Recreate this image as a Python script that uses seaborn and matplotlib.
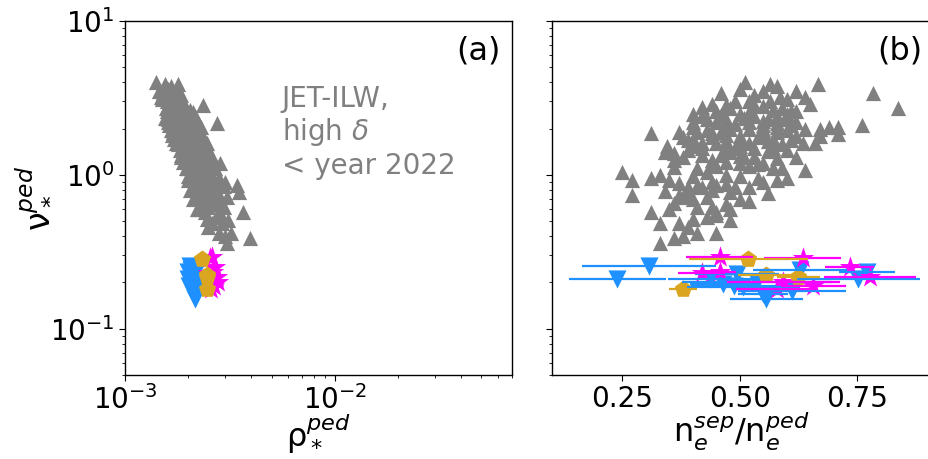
import matplotlib
matplotlib.use("Agg")
import matplotlib.pyplot as plt
import numpy as np
import pandas as pd
import seaborn as sns

# ---------------- data ----------------
# JET-ILW high-triangularity reference set (before 2022)
ref_nu = [4.0, 3.9, 3.9, 3.4, 3.4, 3.2, 3.2, 3.0, 3.0, 3.0, 2.9, 2.84, 2.75, 2.7, 2.6,
          2.5, 2.5, 2.4, 2.3, 2.2, 2.2, 2.16, 2.1, 2.1, 2.05, 2.05, 2.05, 2.05, 2.0, 2.0,
          1.95, 1.9, 1.86, 1.86, 1.85, 1.8, 1.8, 1.76, 1.72, 1.68, 1.68, 1.65, 1.6, 1.6,
          1.55, 1.5, 1.5, 1.5, 1.45, 1.4, 1.38, 1.35, 1.3, 1.25, 1.2, 1.19, 1.18, 1.1,
          1.08, 1.04, 1.0, 1.0, 0.96, 0.95, 0.92, 0.92, 0.88, 0.855, 0.83, 0.83, 0.83,
          0.83, 0.79, 0.77, 0.76, 0.74, 0.74, 0.72, 0.68, 0.65, 0.62, 0.62, 0.57, 0.57,
          0.55, 0.51, 0.49, 0.49, 0.42, 0.42, 0.40, 0.39, 0.36,
          2.6, 2.4, 2.3, 2.3, 2.2, 2.0, 1.9, 1.9, 1.75, 1.7, 1.62, 1.55, 1.45, 1.4, 1.3,
          2.8, 2.7, 2.5, 3.5, 3.6, 1.15, 1.12, 0.98, 0.9, 0.7, 0.6, 0.52, 1.3, 1.6, 2.0,
          2.9, 2.85, 2.7, 2.65, 2.6, 2.55, 2.45, 2.4, 2.35, 2.3, 2.25, 2.2, 2.15, 2.1,
          2.05, 1.98, 1.95, 1.9, 1.85, 1.82, 1.78, 1.75, 1.7, 1.65, 1.62, 1.58, 1.55,
          1.5, 1.45, 1.42, 1.35, 1.32, 1.28, 1.25, 1.22, 1.15, 1.1, 1.05, 0.98, 0.93,
          0.87, 0.8, 0.75, 0.7, 0.66, 0.6, 0.53, 0.46, 3.3, 3.1, 3.8, 3.5,
          1.3, 1.1, 0.95, 0.85, 0.72, 1.2, 0.9, 1.6]
ref_rho = [1.40e-3, 1.55e-3, 1.79e-3, 1.62e-3, 1.52e-3, 1.70e-3, 1.48e-3, 1.62e-3, 1.75e-3,
           1.58e-3, 1.80e-3, 2.35e-3, 1.66e-3, 1.72e-3, 1.85e-3, 1.68e-3, 1.78e-3, 1.62e-3,
           1.90e-3, 1.74e-3, 1.82e-3, 2.74e-3, 1.70e-3, 1.95e-3, 1.80e-3, 1.88e-3, 1.76e-3,
           2.00e-3, 1.84e-3, 1.92e-3, 1.72e-3, 1.86e-3, 1.98e-3, 1.80e-3, 2.05e-3, 1.90e-3,
           1.78e-3, 2.00e-3, 1.88e-3, 2.08e-3, 1.84e-3, 1.95e-3, 2.10e-3, 1.80e-3, 1.92e-3,
           2.02e-3, 2.15e-3, 1.86e-3, 2.00e-3, 2.10e-3, 1.90e-3, 2.20e-3, 2.05e-3, 1.95e-3,
           2.30e-3, 2.83e-3, 2.12e-3, 2.00e-3, 2.40e-3, 2.20e-3, 2.30e-3, 2.10e-3, 2.45e-3,
           2.25e-3, 2.15e-3, 2.55e-3, 2.35e-3, 3.41e-3, 2.20e-3, 2.60e-3, 2.40e-3, 2.50e-3,
           2.30e-3, 3.50e-3, 2.70e-3, 2.45e-3, 2.20e-3, 2.85e-3, 2.35e-3, 2.60e-3, 2.50e-3,
           2.95e-3, 3.65e-3, 2.40e-3, 2.75e-3, 3.10e-3, 2.60e-3, 2.90e-3, 2.80e-3, 3.20e-3,
           3.00e-3, 3.94e-3, 3.06e-3,
           1.65e-3, 1.72e-3, 1.60e-3, 1.76e-3, 1.68e-3, 1.74e-3, 1.96e-3, 1.70e-3, 1.82e-3,
           1.98e-3, 1.76e-3, 2.08e-3, 1.88e-3, 1.98e-3, 2.20e-3,
           1.64e-3, 1.56e-3, 1.86e-3, 1.45e-3, 1.60e-3, 2.05e-3, 2.28e-3, 2.00e-3, 2.15e-3,
           2.30e-3, 2.20e-3, 2.45e-3, 1.85e-3, 2.20e-3, 2.10e-3,
           1.70e-3, 1.90e-3, 1.95e-3, 2.05e-3, 1.58e-3, 2.10e-3, 2.00e-3, 2.15e-3, 1.55e-3,
           2.08e-3, 2.20e-3, 1.60e-3, 2.25e-3, 1.62e-3, 2.30e-3, 2.15e-3, 1.66e-3, 2.25e-3,
           2.30e-3, 1.68e-3, 2.20e-3, 2.35e-3, 1.72e-3, 2.30e-3, 2.40e-3, 1.78e-3, 2.35e-3,
           2.45e-3, 1.82e-3, 2.50e-3, 1.85e-3, 2.40e-3, 2.55e-3, 2.30e-3, 1.90e-3, 2.50e-3,
           1.95e-3, 2.55e-3, 2.60e-3, 2.00e-3, 2.70e-3, 2.05e-3, 2.75e-3, 2.10e-3, 2.80e-3,
           2.25e-3, 2.90e-3, 2.50e-3, 1.85e-3, 1.50e-3, 1.65e-3, 1.75e-3,
           2.60e-3, 2.70e-3, 2.80e-3, 2.95e-3, 3.05e-3, 2.65e-3, 3.00e-3, 2.45e-3]
ref_nsep = [0.511, 0.565, 0.667, 0.784, 0.46, 0.585, 0.64, 0.49, 0.52, 0.565, 0.65, 0.47,
            0.42, 0.837, 0.61, 0.60, 0.50, 0.53, 0.56, 0.45, 0.52, 0.58, 0.55, 0.76, 0.40,
            0.58, 0.69, 0.71, 0.64, 0.48, 0.43, 0.37, 0.31, 0.44, 0.71, 0.67, 0.50, 0.54,
            0.40, 0.39, 0.61, 0.47, 0.635, 0.52, 0.345, 0.42, 0.49, 0.57, 0.60, 0.34, 0.36,
            0.46, 0.53, 0.44, 0.55, 0.50, 0.54, 0.41, 0.64, 0.25, 0.33, 0.47, 0.31, 0.60,
            0.27, 0.58, 0.37, 0.45, 0.39, 0.42, 0.49, 0.52, 0.34, 0.48, 0.56, 0.27, 0.37,
            0.43, 0.52, 0.47, 0.41, 0.44, 0.31, 0.45, 0.45, 0.48, 0.33, 0.37, 0.45, 0.41,
            0.38, 0.36, 0.33,
            0.45, 0.42, 0.47, 0.60, 0.62, 0.55, 0.58, 0.46, 0.44, 0.57, 0.42, 0.50, 0.39,
            0.48, 0.38,
            0.55, 0.59, 0.40, 0.55, 0.50, 0.45, 0.36, 0.40, 0.44, 0.40, 0.35, 0.40, 0.62,
            0.66, 0.67,
            0.44, 0.53, 0.48, 0.57, 0.62, 0.52, 0.46, 0.58, 0.51, 0.43, 0.55, 0.40, 0.49,
            0.61, 0.47, 0.52, 0.60, 0.41, 0.55, 0.47, 0.62, 0.38, 0.50, 0.56, 0.45, 0.59,
            0.40, 0.53, 0.47, 0.56, 0.42, 0.50, 0.58, 0.36, 0.47, 0.52, 0.57, 0.43, 0.50,
            0.35, 0.47, 0.44, 0.39, 0.50, 0.36, 0.48, 0.43, 0.39, 0.53, 0.60, 0.58, 0.62,
            0.51, 0.59, 0.54, 0.41, 0.38, 0.44, 0.55, 0.57]

# New pulses: three groups with separatrix-density uncertainty
blue_nu = [0.257, 0.211, 0.156, 0.168, 0.177, 0.195, 0.19, 0.186, 0.211, 0.239, 0.211,
           0.233, 0.20, 0.227]
blue_rho = [2.05e-3, 2.00e-3, 2.15e-3, 2.12e-3, 2.10e-3, 2.08e-3, 2.02e-3, 2.18e-3,
            2.20e-3, 2.06e-3, 2.14e-3, 2.00e-3, 2.10e-3, 2.16e-3]
blue_nsep = [0.307, 0.239, 0.557, 0.55, 0.611, 0.465, 0.487, 0.508, 0.437, 0.628, 0.753,
             0.771, 0.536, 0.494]
blue_err = [0.143, 0.103, 0.078, 0.053, 0.115, 0.07, 0.09, 0.12, 0.09, 0.10, 0.131,
            0.06, 0.16, 0.09]

mag_nu = [0.294, 0.289, 0.251, 0.218, 0.23, 0.233, 0.19, 0.20, 0.182]
mag_rho = [2.60e-3, 2.55e-3, 2.70e-3, 2.75e-3, 2.50e-3, 2.62e-3, 2.65e-3, 2.78e-3, 2.58e-3]
mag_nsep = [0.457, 0.634, 0.734, 0.778, 0.419, 0.458, 0.657, 0.593, 0.58]
mag_err = [0.071, 0.082, 0.053, 0.098, 0.05, 0.035, 0.07, 0.12, 0.087]

gold_nu = [0.284, 0.224, 0.216, 0.182]
gold_rho = [2.32e-3, 2.45e-3, 2.47e-3, 2.45e-3]
gold_nsep = [0.518, 0.557, 0.625, 0.380]
gold_err = [0.127, 0.06, 0.045, 0.03]

# ---------------- styling ----------------
sns.set_theme(style="white")
plt.rcParams["font.family"] = ["DejaVu Sans"]
plt.rcParams["mathtext.fontset"] = "dejavusans"
for key in ("text.color", "axes.labelcolor", "xtick.color", "ytick.color",
            "axes.edgecolor"):
    plt.rcParams[key] = "black"

GREY = "#808080"
BLUE = "#1E90FF"
MAGENTA = "#FF00FF"
GOLD = "#DAA520"

fig = plt.figure(figsize=(9.29, 4.59), dpi=100)
ax1 = fig.add_axes([125 / 929, 84 / 459, 387 / 929, 354 / 459])
ax2 = fig.add_axes([552 / 929, 84 / 459, 379 / 929, 354 / 459], sharey=ax1)

ref = pd.DataFrame({"rho": ref_rho, "nu": ref_nu, "nsep": ref_nsep})
blue = pd.DataFrame({"rho": blue_rho, "nu": blue_nu, "nsep": blue_nsep, "err": blue_err})
mag = pd.DataFrame({"rho": mag_rho, "nu": mag_nu, "nsep": mag_nsep, "err": mag_err})
gold = pd.DataFrame({"rho": gold_rho, "nu": gold_nu, "nsep": gold_nsep, "err": gold_err})

groups = [(blue, BLUE, "v", 170), (mag, MAGENTA, "*", 260), (gold, GOLD, "p", 170)]

# (a) collisionality vs normalised gyroradius
sns.scatterplot(data=ref, x="rho", y="nu", ax=ax1, color=GREY, marker="^", s=120,
                linewidth=0, legend=False)
for df, c, m, s in groups:
    sns.scatterplot(data=df, x="rho", y="nu", ax=ax1, color=c, marker=m, s=s,
                    linewidth=0, legend=False)

# (b) collisionality vs separatrix/pedestal density ratio
sns.scatterplot(data=ref, x="nsep", y="nu", ax=ax2, color=GREY, marker="^", s=120,
                linewidth=0, legend=False)
for df, c, m, s in groups:
    ax2.errorbar(df["nsep"], df["nu"], xerr=df["err"], fmt="none", ecolor=c,
                 elinewidth=1.6, capsize=0)
    sns.scatterplot(data=df, x="nsep", y="nu", ax=ax2, color=c, marker=m, s=s,
                    linewidth=0, legend=False)

ax1.set_xscale("log")
ax1.set_yscale("log")
ax1.set_xlim(1e-3, 7e-2)
ax1.set_ylim(0.05, 10)
ax2.set_xlim(0.1, 0.1 + 379 / 469.3)
ax2.set_xticks([0.25, 0.50, 0.75])
ax2.set_xticklabels(["0.25", "0.50", "0.75"])

ax1.set_xlabel(r"$\mathrm{\rho}_*^{ped}$", fontsize=23, labelpad=-2)
ax1.set_ylabel(r"$\mathrm{\nu}_*^{ped}$", fontsize=24, labelpad=-1)
ax2.set_xlabel(r"n$_e^{sep}$/n$_e^{ped}$", fontsize=23, labelpad=-2)
ax2.set_ylabel("")

for ax in (ax1, ax2):
    ax.tick_params(which="major", direction="out", length=4, width=0.8,
                   labelsize=20, left=True, bottom=True)
    ax.tick_params(which="minor", direction="out", length=2.5, width=0.6,
                   left=True, bottom=True)
    for sp in ax.spines.values():
        sp.set_linewidth(1.0)
ax2.tick_params(axis="y", which="both", labelleft=False)

ax1.text(0.405, 0.82, "JET-ILW,\nhigh $\\delta$\n< year 2022", transform=ax1.transAxes,
         ha="left", va="top", fontsize=20, color=GREY, linespacing=1.15)
ax1.text(0.97, 0.96, "(a)", transform=ax1.transAxes, ha="right", va="top", fontsize=23)
ax2.text(0.978, 0.96, "(b)", transform=ax2.transAxes, ha="right", va="top", fontsize=23)

fig.savefig("out.png", dpi=100, facecolor="white")
